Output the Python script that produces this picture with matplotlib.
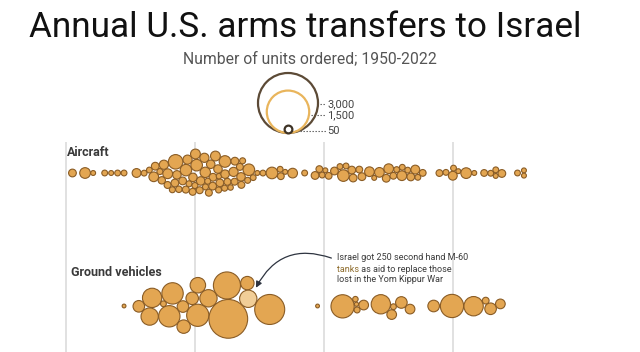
import numpy as np
import matplotlib.pyplot as plt

# ── Data: one bubble per order (year, units ordered) ───────────────
air_years = [1951, 1953, 1954, 1956, 1957, 1958, 1959, 1961, 1962, 1964, 1965,
             1966, 1966, 1966,
             1967, 1967, 1967, 1967,
             1968, 1968, 1968, 1968,
             1969, 1969, 1969, 1969, 1969,
             1970, 1970, 1970, 1970, 1970,
             1971, 1971, 1971, 1971, 1971,
             1972, 1972, 1972, 1972, 1972,
             1973, 1973, 1973, 1973, 1973,
             1974, 1974, 1974, 1974,
             1975, 1975, 1975, 1975,
             1976, 1976, 1976,
             1977, 1977, 1977,
             1978, 1980, 1981, 1982, 1983, 1983, 1984, 1985,
             1987, 1989, 1989, 1990, 1990, 1991, 1992, 1993, 1993, 1994, 1994,
             1994, 1995, 1996, 1997, 1998, 1999, 2000, 2000, 2001, 2001, 2002,
             2002, 2003, 2003, 2004, 2004, 2005,
             2008, 2009, 2010, 2010, 2011, 2012, 2013, 2015, 2016, 2017, 2017,
             2017, 2020, 2021, 2021]
air_units = [50, 95, 20, 28, 20, 28, 28, 65, 28, 28, 78,
             45, 30, 50,
             70, 40, 30, 80,
             175, 60, 50, 35,
             110, 70, 50, 40, 30,
             112, 80, 60, 40, 30,
             90, 70, 60, 40, 30,
             60, 50, 50, 40, 30,
             80, 60, 50, 30, 25,
             112, 60, 40, 30,
             70, 50, 40, 25,
             60, 40, 30,
             112, 40, 30,
             28, 20, 28, 112, 38, 28, 20, 78,
             28, 50, 38, 20, 28, 38, 50, 28, 112, 50, 50,
             28, 38, 50, 78, 20, 78, 78, 50, 38, 28, 78,
             28, 28, 50, 28, 65, 38,
             38, 28, 65, 28, 20, 95, 20, 38, 28, 28, 50,
             20, 28, 20, 20]

ground_years = [1959, 1962, 1963, 1964, 1966, 1966, 1967, 1968, 1968, 1969,
                1971, 1971, 1971, 1975, 1975, 1978, 1979, 1981,
                1989, 1993, 1994, 1994, 1995, 1996, 1999, 2000, 2001, 2002,
                2003, 2007, 2010, 2013, 2015, 2016, 2017]
ground_units = [12, 112, 250, 310, 380, 28, 380, 112, 150, 130,
                250, 410, 200, 610, 1250, 150, 250, 750,
                12, 450, 15, 25, 30, 78, 310, 78, 28, 112,
                78, 112, 450, 312, 38, 112, 78]
highlight = (1979, 250)  # second hand M-60 tanks

legend_units = [3000, 1500, 50]
legend_labels = ["3,000", "1,500", "50"]
grid_years = [1950, 1970, 1990, 2010]

# ── Layout (pixels) ────────────────────────────────────────────────
W, H, DPI = 640, 352, 100
X0, PX_PER_YEAR = 66, 6.45
R_MAX = 30          # radius of a 3,000-unit bubble
AIR_Y, GROUND_Y = 173, 306

FILL = "#E3A652"
EDGE = "#8A5C25"
LIGHT = "#F1CE98"


def radius(units):
    return R_MAX * np.sqrt(np.asarray(units, float) / 3000)


def to_px(years):
    return X0 + (np.asarray(years, float) - 1950) * PX_PER_YEAR


def to_year(px):
    return 1950 + (np.asarray(px, float) - X0) / PX_PER_YEAR


def pack(years, units, cy, phi, pull_x=0.08, pull_y=0.04, iters=300, pad=0.3):
    """Small force layout: pull to (year, row centre), push overlaps apart."""
    r = radius(units)
    tx = to_px(years)
    n = len(r)
    x = tx.copy()
    y = 6 * np.sin(np.arange(n) * phi)
    area = r ** 2
    w = area[None, :] / (area[:, None] + area[None, :])

    def collide(x, y):
        dx = x[:, None] - x[None, :]
        dy = y[:, None] - y[None, :]
        d = np.hypot(dx, dy)
        d = np.where(d < 1e-6, 1e-6, d)
        ov = (r[:, None] + r[None, :] + pad) - d
        ov = np.where(ov > 0, ov, 0)
        np.fill_diagonal(ov, 0)
        return (x + 0.5 * np.sum(ov * w * dx / d, axis=1),
                y + 0.5 * np.sum(ov * w * dy / d, axis=1))

    for _ in range(iters):
        x = x + (tx - x) * pull_x
        y = y - y * pull_y
        for _ in range(3):
            x, y = collide(x, y)
    for _ in range(60):
        x, y = collide(x, y)
    return x, y + cy, r


def size_pts(r):
    return (2 * r * 72 / DPI) ** 2


fig = plt.figure(figsize=(W / DPI, H / DPI), dpi=DPI)
ax = fig.add_axes([0, 0, 1, 1])
ax.set_xlim(to_year(0), to_year(W))
ax.set_ylim(H, 0)
ax.axis("off")

# gridlines
ax.vlines(grid_years, 142, H, color="#DCDCDC", lw=1.2, zorder=0)

# bubbles
a_x, a_y, a_r = pack(air_years, air_units, AIR_Y, phi=1.3, pull_y=0.1)
ax.scatter(to_year(a_x), a_y, s=size_pts(a_r), color=FILL,
           edgecolor=EDGE, linewidth=0.8, zorder=2)

gx, gy, gr = pack(ground_years, ground_units, GROUND_Y, phi=4.1, pull_y=0.04)
is_hl = np.array([(yy, u) == highlight for yy, u in zip(ground_years, ground_units)])
cols = np.where(is_hl, LIGHT, FILL)
ax.scatter(to_year(gx), gy, s=size_pts(gr), c=list(cols),
           edgecolor=EDGE, linewidth=0.8, zorder=2)

# titles
fig.text(305 / W, 1 - 37 / H, "Annual U.S. arms transfers to Israel",
         ha="center", va="baseline", fontsize=25.3, family="Roboto", color="#111111")
fig.text(310 / W, 1 - 63 / H, "Number of units ordered; 1950-2022",
         ha="center", va="baseline", fontsize=11.3, family="Roboto", color="#555555")

# size legend
LEG_X, LEG_BOTTOM = 288, 133
leg_r = radius(legend_units)
leg_edges = ["#5C4A36", "#E9B55C", "#3E3326"]
leg_dy = [1, 3, 2]
for lr, lab, ec, dy in zip(leg_r, legend_labels, leg_edges, leg_dy):
    cy = LEG_BOTTOM - lr
    ax.scatter(to_year(LEG_X), cy, s=size_pts(lr), facecolor="white" if lr < 10 else "none",
               edgecolor=ec, linewidth=1.6, zorder=3)
    ax.plot(to_year([LEG_X + lr + 2, 326]), [cy + dy, cy + dy],
            ls=(0, (1.2, 1.5)), color="#555555", lw=0.8)
    ax.text(to_year(327), cy + dy, lab, ha="left", va="center",
            fontsize=8, family="Roboto", color="#444444")

# row labels
ax.text(to_year(67), 152, "Aircraft", ha="left", va="center", fontsize=9,
        fontweight="bold", family="Roboto", color="#3A3A3A")
ax.text(to_year(71), 273, "Ground vehicles", ha="left", va="center", fontsize=9,
        fontweight="bold", family="Roboto", color="#3A3A3A")

# annotation
TX = 337
ax.text(to_year(TX), 258, "Israel got 250 second hand M-60", ha="left", va="center",
        fontsize=6.5, family="Roboto", color="#3A3A3A")
t2 = ax.text(to_year(TX), 269, "tanks", ha="left", va="center",
             fontsize=6.5, family="Roboto", color="#8E6C2C")
ax.annotate(" as aid to replace those", xy=(1, 0), xycoords=t2, ha="left", va="bottom",
            fontsize=6.5, family="Roboto", color="#3A3A3A")
ax.text(to_year(TX), 280, "lost in the Yom Kippur War", ha="left", va="center",
        fontsize=6.5, family="Roboto", color="#3A3A3A")

hx, hy, hr = gx[is_hl][0], gy[is_hl][0], gr[is_hl][0]
tip = (hx + (hr + 2) * 0.6, hy - (hr + 2) * 0.8)
ax.annotate("", xy=(to_year(tip[0]), tip[1]), xytext=(to_year(TX - 3), 259),
            arrowprops=dict(arrowstyle="-|>", connectionstyle="arc3,rad=0.45",
                            color="#2E3440", lw=0.9, mutation_scale=9))

fig.savefig("out.png", dpi=DPI)
